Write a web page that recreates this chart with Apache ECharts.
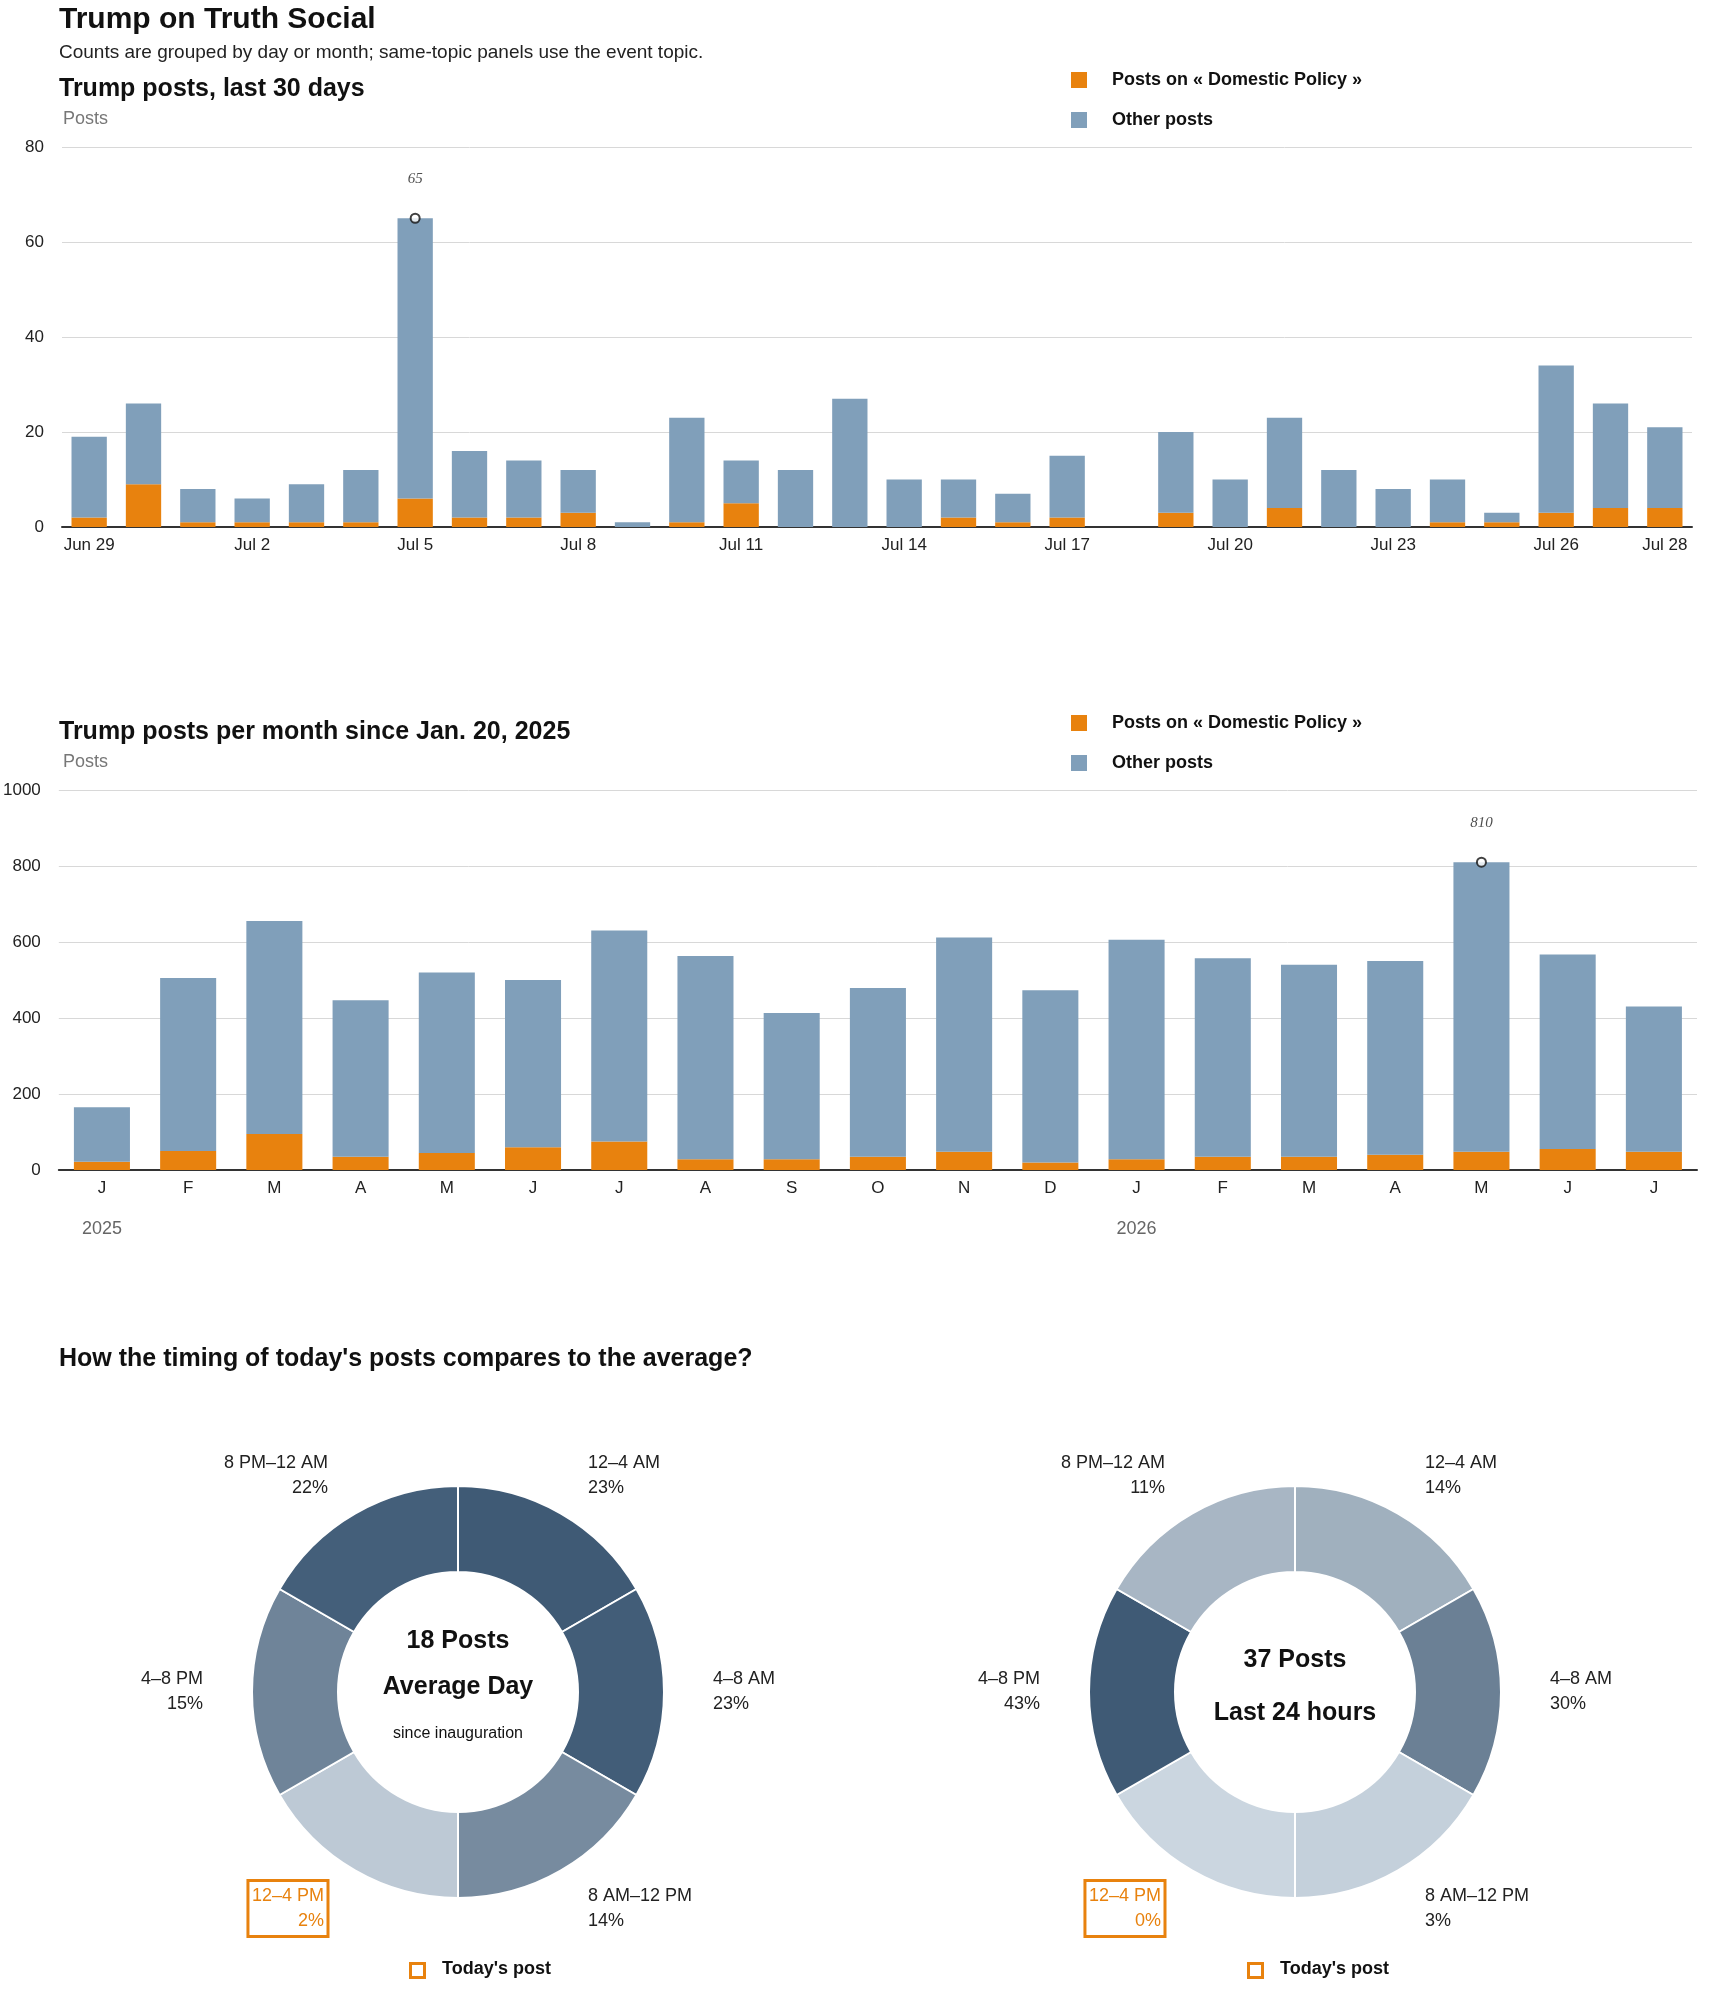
<!DOCTYPE html>
<html>
<head>
<meta charset="utf-8" />
<title>Trump on Truth Social</title>
<script src="https://cdn.jsdelivr.net/npm/echarts@6/dist/echarts.min.js"></script>
<style>
  html, body { margin: 0; padding: 0; background: #fff; }
  #main { width: 1710px; height: 1993px; }
</style>
</head>
<body>
<div id="main"></div>
<script>
// daily chart, Jun 29 .. Jul 28
var dayLabels = ['Jun 29','Jun 30','Jul 1','Jul 2','Jul 3','Jul 4','Jul 5','Jul 6','Jul 7','Jul 8','Jul 9','Jul 10','Jul 11','Jul 12','Jul 13','Jul 14','Jul 15','Jul 16','Jul 17','Jul 18','Jul 19','Jul 20','Jul 21','Jul 22','Jul 23','Jul 24','Jul 25','Jul 26','Jul 27','Jul 28'];
var dayTotal = [19,26,8,6,9,12,65,16,14,12,1,23,14,12,27,10,10,7,15,0,20,10,23,12,8,10,3,34,26,21];
var dayTopic = [2,9,1,1,1,1,6,2,2,3,0,1,5,0,0,0,2,1,2,0,3,0,4,0,0,1,1,3,4,4];

// monthly chart, Jan 2025 .. Jul 2026
var monthLabels = ['J','F','M','A','M','J','J','A','S','O','N','D','J','F','M','A','M','J','J'];
var monthTotal = [165,505,655,447,520,500,630,563,413,479,612,473,606,557,540,550,810,567,430];
var monthTopic = [22,50,95,35,45,60,75,28,28,35,48,20,28,35,35,40,48,55,48];
var yearLabels = ['2025','','','','','','','','','','','','2026','','','','','',''];

// time-of-day donuts
var slots = ['12–4 AM','4–8 AM','8 AM–12 PM','12–4 PM','4–8 PM','8 PM–12 AM'];
var avgPct = [23,23,14,2,15,22];
var todayPct = [14,30,3,0,43,11];
var avgColors = ['#3f5a75','#425d78','#778b9f','#bdc9d5','#6f8499','#445f7a'];
var todayColors = ['#a0b0be','#6b8095','#c4d0db','#cbd6e0','#3f5a75','#a8b6c4'];
var todaySlot = 3;

var FONT = 'Liberation Sans, Roboto, sans-serif';
var ORANGE = '#e8820e';
var BLUE = '#809fba';

function minus(a, b) { return a.map(function (v, i) { return v - b[i]; }); }
function peak(arr) {
  var m = Math.max.apply(null, arr);
  return arr.map(function (v) { return v === m ? v : null; });
}

var dayShown = {0:1,3:1,6:1,9:1,12:1,15:1,18:1,21:1,24:1,27:1,29:1};

function legend(top) {
  return {
    orient: 'vertical', left: 1066, top: top, itemGap: 22,
    itemWidth: 16, itemHeight: 16, icon: 'rect',
    textStyle: { fontFamily: FONT, fontWeight: 'bold', fontSize: 18, color: '#111', padding: [0, 0, 0, 20] },
    data: ['Posts on « Domestic Policy »', 'Other posts']
  };
}

function peakSeries(x, y, arr) {
  return {
    type: 'scatter', xAxisIndex: x, yAxisIndex: y, data: peak(arr), symbol: 'emptyCircle', symbolSize: 9, z: 10,
    itemStyle: { color: '#111', borderColor: '#111', borderWidth: 2 },
    label: { show: true, position: 'top', distance: 26, fontStyle: 'italic', fontFamily: 'Liberation Serif, serif', fontSize: 15, color: '#222' }
  };
}

function donut(center, colors, pct) {
  return {
    type: 'pie', center: center, radius: [120, 206], startAngle: 90, clockwise: true,
    silent: true,
    itemStyle: { borderColor: '#fff', borderWidth: 2 },
    label: {
      show: true, position: 'outside', fontFamily: FONT, fontSize: 18, color: '#222', lineHeight: 25
    },
    labelLine: { show: false, length: 44, length2: 0 },
    data: slots.map(function (s, i) {
      var d = {
        name: s, value: 1, itemStyle: { color: colors[i] },
        label: { formatter: s + '\n' + pct[i] + '%' }
      };
      if (i === todaySlot) {
        d.label.color = ORANGE;
        d.label.borderColor = ORANGE;
        d.label.borderWidth = 3;
        d.label.padding = [3, 4, 3, 4];
      }
      return d;
    })
  };
}

function centerText(x, y, text, size, weight) {
  return { type: 'text', x: x, y: y, style: { text: text, align: 'center', verticalAlign: 'middle', fontFamily: FONT, fontSize: size, fontWeight: weight, fill: '#111' } };
}

var chart = echarts.init(document.getElementById('main'));
chart.setOption({
  animation: false,
  textStyle: { fontFamily: FONT },
  title: [
    { text: 'Trump on Truth Social', left: 54, top: 0, textStyle: { fontSize: 30, fontWeight: 900, color: '#111' } },
    { text: 'Counts are grouped by day or month; same-topic panels use the event topic.', left: 54, top: 38, textStyle: { fontSize: 19, fontWeight: 'normal', color: '#222' } },
    { text: 'Trump posts, last 30 days', left: 54, top: 72, textStyle: { fontSize: 25, fontWeight: 900, color: '#111' } },
    { text: 'Posts', left: 58, top: 105, textStyle: { fontSize: 18, fontWeight: 'normal', color: '#777' } },
    { text: 'Trump posts per month since Jan. 20, 2025', left: 54, top: 715, textStyle: { fontSize: 25, fontWeight: 900, color: '#111' } },
    { text: 'Posts', left: 58, top: 748, textStyle: { fontSize: 18, fontWeight: 'normal', color: '#777' } },
    { text: "How the timing of today's posts compares to the average?", left: 54, top: 1342, textStyle: { fontSize: 25, fontWeight: 900, color: '#111' } }
  ],
  legend: [legend(66), legend(709)],
  grid: [
    { left: 62, right: 18, top: 147, height: 380 },
    { left: 56, right: 13, top: 790, height: 380 }
  ],
  xAxis: [
    {
      type: 'category', gridIndex: 0, data: dayLabels,
      axisTick: { show: false },
      axisLine: { lineStyle: { color: '#333', width: 2 } },
      axisLabel: {
        fontSize: 17, color: '#222', margin: 10,
        interval: function (i) { return !!dayShown[i]; }
      }
    },
    {
      type: 'category', gridIndex: 1, data: monthLabels,
      axisTick: { show: false },
      axisLine: { lineStyle: { color: '#333', width: 2 } },
      axisLabel: { fontSize: 17, color: '#222', margin: 10, interval: 0 }
    },
    {
      type: 'category', gridIndex: 1, data: yearLabels, position: 'bottom', offset: 42,
      axisTick: { show: false }, axisLine: { show: false },
      axisLabel: { fontSize: 18, color: '#666', interval: 0 }
    }
  ],
  yAxis: [
    {
      type: 'value', gridIndex: 0, min: 0, max: 80, interval: 20,
      splitLine: { lineStyle: { color: '#d8d8d8' } },
      axisLabel: { fontSize: 17, color: '#222', margin: 18 }
    },
    {
      type: 'value', gridIndex: 1, min: 0, max: 1000, interval: 200,
      splitLine: { lineStyle: { color: '#d8d8d8' } },
      axisLabel: { fontSize: 17, color: '#222', margin: 18, formatter: function (v) { return String(v); } }
    }
  ],
  series: [
    { name: 'Posts on « Domestic Policy »', type: 'bar', stack: 'd', xAxisIndex: 0, yAxisIndex: 0, data: dayTopic, itemStyle: { color: ORANGE }, barCategoryGap: '35%' },
    { name: 'Other posts', type: 'bar', stack: 'd', xAxisIndex: 0, yAxisIndex: 0, data: minus(dayTotal, dayTopic), itemStyle: { color: BLUE } },
    peakSeries(0, 0, dayTotal),
    { name: 'Posts on « Domestic Policy »', type: 'bar', stack: 'm', xAxisIndex: 1, yAxisIndex: 1, data: monthTopic, itemStyle: { color: ORANGE }, barCategoryGap: '35%' },
    { name: 'Other posts', type: 'bar', stack: 'm', xAxisIndex: 1, yAxisIndex: 1, data: minus(monthTotal, monthTopic), itemStyle: { color: BLUE } },
    peakSeries(1, 1, monthTotal),
    donut([458, 1692], avgColors, avgPct),
    donut([1295, 1692], todayColors, todayPct)
  ],
  graphic: [
    centerText(458, 1641, '18 Posts', 25, 900),
    centerText(458, 1687, 'Average Day', 25, 900),
    centerText(458, 1734, 'since inauguration', 16, 'normal'),
    centerText(1295, 1660, '37 Posts', 25, 900),
    centerText(1295, 1713, 'Last 24 hours', 25, 900),
    { type: 'rect', left: 409, top: 1962, shape: { width: 14, height: 14 }, style: { fill: '#fff', stroke: ORANGE, lineWidth: 3 } },
    { type: 'text', left: 442, top: 1960, style: { text: "Today's post", fontFamily: FONT, fontSize: 18, fontWeight: 'bold', fill: '#111' } },
    { type: 'rect', left: 1247, top: 1962, shape: { width: 14, height: 14 }, style: { fill: '#fff', stroke: ORANGE, lineWidth: 3 } },
    { type: 'text', left: 1280, top: 1960, style: { text: "Today's post", fontFamily: FONT, fontSize: 18, fontWeight: 'bold', fill: '#111' } }
  ]
});
</script>
</body>
</html>
